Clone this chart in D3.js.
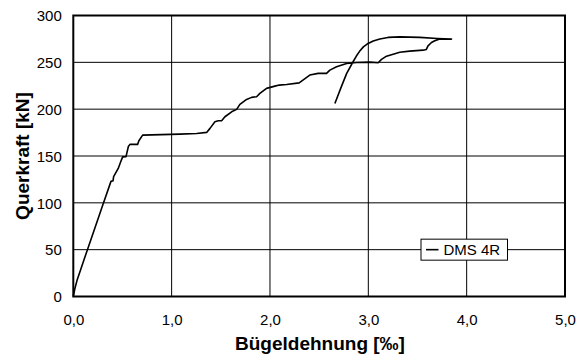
<!DOCTYPE html>
<html>
<head>
<meta charset="utf-8">
<script src="https://cdn.jsdelivr.net/npm/d3@7"></script>
<style>
  html, body { margin: 0; padding: 0; background: #fff; }
  svg { display: block; font-family: Arial, "Liberation Sans", sans-serif; }
</style>
</head>
<body>
<svg id="chart" width="583" height="360"></svg>
<script>
// Stirrup strain (‰) and corresponding shear force (kN), gauge DMS 4R
const strain = [
  0, 0.015, 0.04, 0.142, 0.305, 0.383, 0.404, 0.41, 0.457, 0.481, 0.502, 0.536,
  0.56, 0.576, 0.654, 0.667, 0.705, 1.084, 1.254, 1.356, 1.39, 1.44, 1.474, 1.508,
  1.542, 1.61, 1.661, 1.694, 1.762, 1.813, 1.864, 1.897, 1.965, 2.05, 2.095, 2.169,
  2.297, 2.321, 2.405, 2.49, 2.575, 2.609, 2.677, 2.779, 2.88, 3.015, 3.1, 3.134,
  3.185, 3.32, 3.42, 3.557, 3.59, 3.607, 3.642, 3.676, 3.727, 3.846,
  3.7, 3.523, 3.32, 3.2, 3.117, 3.05, 2.998, 2.95, 2.913, 2.88, 2.845, 2.78, 2.72, 2.66
];
const shear = [
  0, 8, 18, 49.5, 99.4, 122.9, 123.5, 128, 136.7, 143.5, 149.1, 149.3,
  160.2, 162.4, 162.4, 166.3, 172.3, 173.4, 174.1, 175.2, 179.5, 186.5, 187.6, 187.6,
  191.9, 197.2, 199.8, 205.1, 210.4, 212.6, 213.3, 216.8, 222.2, 224.6, 225.7, 226.4,
  228.1, 229.9, 236.4, 238.2, 238.2, 241.7, 245.2, 248.8, 249.9, 250.2, 249.5, 253.1,
  256.6, 260.8, 262, 263, 263.8, 267.6, 271.2, 273.1, 274.8, 274.8,
  275.5, 276.6, 277.2, 276.6, 275, 272.8, 270.2, 266.5, 262, 257, 250.6, 238.2, 222.5, 206.1
];
const xTicks = [0, 1, 2, 3, 4, 5];
const yTicks = [0, 50, 100, 150, 200, 250, 300];
const seriesName = "DMS 4R";
const xTitle = "Bügeldehnung [‰]";
const yTitle = "Querkraft [kN]";

const svg = d3.select("#chart");
const plotL = 73.3, plotR = 565, plotT = 15.5, plotB = 296.5;

const x = d3.scaleLinear().domain([0, 5]).range([plotL, plotR]);
const y = d3.scaleLinear().domain([0, 300]).range([plotB, plotT]);
const fmt = d => d3.format(".1f")(d).replace(".", ",");

svg.append("rect").attr("width", 583).attr("height", 360).attr("fill", "#fff");

// grid
const grid = svg.append("g").attr("stroke", "#000").attr("stroke-width", 1);
grid.selectAll(".gx").data(xTicks.slice(1, -1)).join("line")
  .attr("x1", d => x(d)).attr("x2", d => x(d))
  .attr("y1", plotT).attr("y2", plotB);
grid.selectAll(".gy").data(yTicks.slice(1, -1)).join("line")
  .attr("x1", plotL).attr("x2", plotR)
  .attr("y1", d => y(d)).attr("y2", d => y(d));

// plot frame
svg.append("rect")
  .attr("x", plotL).attr("y", plotT)
  .attr("width", plotR - plotL).attr("height", plotB - plotT)
  .attr("fill", "none").attr("stroke", "#000").attr("stroke-width", 2);

// axes (labels only)
const xAxis = d3.axisBottom(x).tickValues(xTicks).tickFormat(fmt).tickSize(0).tickPadding(0);
const gx = svg.append("g").attr("transform", `translate(0,${plotB})`).call(xAxis);
gx.select(".domain").remove();
gx.selectAll("text").attr("font-size", 15).attr("font-family", "Arial, 'Liberation Sans', sans-serif")
  .attr("fill", "#000").attr("dy", null).attr("y", 28.5);

const yAxis = d3.axisLeft(y).tickValues(yTicks).tickFormat(d3.format("d")).tickSize(0).tickPadding(0);
const gy = svg.append("g").attr("transform", `translate(${plotL},0)`).call(yAxis);
gy.select(".domain").remove();
gy.selectAll("text").attr("font-size", 15).attr("font-family", "Arial, 'Liberation Sans', sans-serif")
  .attr("fill", "#000").attr("x", -11.5).attr("dy", "0.35em");

// curve
const line = d3.line().x((d, i) => x(strain[i])).y((d, i) => y(shear[i]));
svg.append("path")
  .datum(strain)
  .attr("d", line)
  .attr("fill", "none")
  .attr("stroke", "#000")
  .attr("stroke-width", 1.6)
  .attr("stroke-linejoin", "round");

// axis titles
svg.append("text")
  .attr("x", 320).attr("y", 350)
  .attr("text-anchor", "middle")
  .attr("font-weight", "bold").attr("font-size", 19)
  .text(xTitle);
svg.append("text")
  .attr("transform", `translate(28.5,156) rotate(-90)`)
  .attr("text-anchor", "middle")
  .attr("font-weight", "bold").attr("font-size", 19)
  .text(yTitle);

// legend
const lg = svg.append("g").attr("transform", `translate(0,${y(50)})`);
lg.append("rect")
  .attr("x", 421).attr("y", -10.5).attr("width", 86.5).attr("height", 21)
  .attr("fill", "#fff").attr("stroke", "#000").attr("stroke-width", 1);
lg.append("line")
  .attr("x1", 426).attr("x2", 438.5).attr("y1", 0).attr("y2", 0)
  .attr("stroke", "#000").attr("stroke-width", 1.6);
lg.append("text")
  .attr("x", 443.5).attr("y", 0).attr("dy", "0.36em")
  .attr("font-size", 15)
  .text(seriesName);
</script>
</body>
</html>
